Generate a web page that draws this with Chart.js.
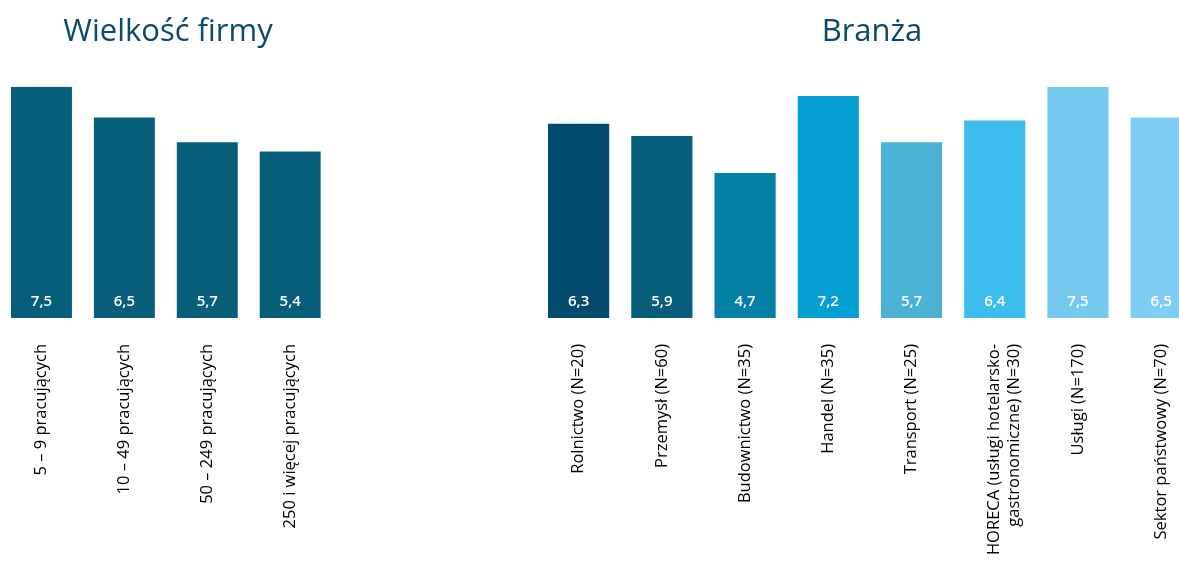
<!DOCTYPE html>
<html>
<head>
<meta charset="utf-8">
<script src="https://cdn.jsdelivr.net/npm/chart.js@4/dist/chart.umd.min.js"></script>
<style>
html,body{margin:0;padding:0;background:#fff;width:1179px;height:567px;overflow:hidden;position:relative;}
.box{position:absolute;top:0;height:567px;}
</style>
</head>
<body>
<div class="box" style="left:0;width:336px;"><canvas id="c1"></canvas></div>
<div class="box" style="left:537px;width:670px;"><canvas id="c2"></canvas></div>
<script>
const sizeCategories = ["5 – 9 pracujących", "10 – 49 pracujących", "50 – 249 pracujących", "250 i więcej pracujących"];
const sizeValues = [7.5, 6.5, 5.7, 5.4];
const sizeColors = ["#065e7a", "#065e7a", "#065e7a", "#065e7a"];

const industryCategories = ["Rolnictwo (N=20)", "Przemysł (N=60)", "Budownictwo (N=35)", "Handel (N=35)", "Transport (N=25)", ["HORECA (usługi hotelarsko-", "gastronomiczne) (N=30)"], "Usługi (N=170)", "Sektor państwowy (N=70)"];
const industryValues = [6.3, 5.9, 4.7, 7.2, 5.7, 6.4, 7.5, 6.5];
const industryColors = ["#024a6e", "#065e7a", "#047fa6", "#04a0d3", "#4ab2d4", "#3dbdee", "#76c9ee", "#80cdf3"];

const FONT = "'Open Sans', 'Noto Sans', sans-serif";

const valueLabels = {
  id: 'valueLabels',
  afterDatasetsDraw(chart) {
    const ctx = chart.ctx;
    const meta = chart.getDatasetMeta(0);
    const data = chart.data.datasets[0].data;
    ctx.save();
    ctx.fillStyle = '#ffffff';
    ctx.font = "600 15px " + FONT;
    ctx.textAlign = 'center';
    ctx.textBaseline = 'middle';
    meta.data.forEach((bar, i) => {
      const txt = data[i].toFixed(1).replace('.', ',');
      ctx.fillText(txt, bar.x, bar.base - 16);
    });
    ctx.restore();
  }
};

function makeChart(id, title, labels, values, colors) {
  return new Chart(document.getElementById(id), {
    type: 'bar',
    data: {
      labels: labels,
      datasets: [{
        data: values,
        backgroundColor: colors,
        borderWidth: 0,
        categoryPercentage: 1.0,
        barPercentage: 0.735
      }]
    },
    options: {
      responsive: true,
      maintainAspectRatio: false,
      animation: false,
      layout: { padding: 0 },
      plugins: {
        legend: { display: false },
        tooltip: { enabled: false },
        title: {
          display: true,
          text: title,
          color: '#0b4a6c',
          font: { family: FONT, size: 31, weight: 'normal' },
          padding: { top: 14, bottom: 35.5 }
        }
      },
      scales: {
        x: {
          grid: { display: false, drawTicks: false },
          border: { display: false },
          ticks: {
            color: '#000000',
            font: { family: FONT, size: 16.5 },
            maxRotation: 90,
            minRotation: 90,
            padding: 26,
            autoSkip: false
          },
          afterFit(scale) { scale.height = 249; }
        },
        y: {
          display: false,
          min: 0,
          max: 7.5
        }
      }
    },
    plugins: [valueLabels]
  });
}

makeChart('c1', 'Wielkość firmy', sizeCategories, sizeValues, sizeColors);
makeChart('c2', 'Branża', industryCategories, industryValues, industryColors);
</script>
</body>
</html>
